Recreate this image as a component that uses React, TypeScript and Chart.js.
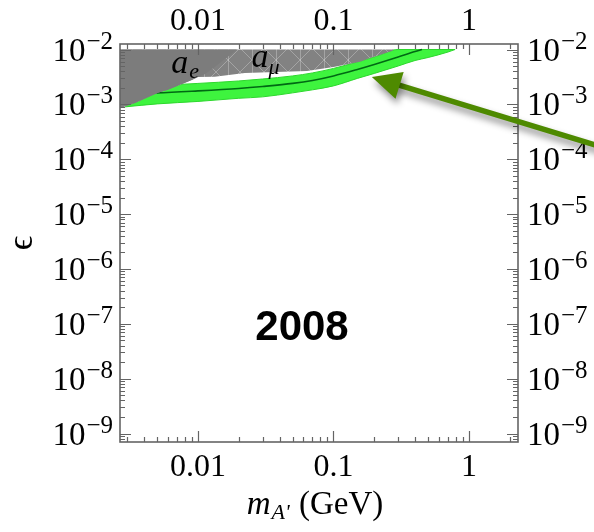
import { useEffect, useRef } from 'react';
import { Chart, registerables } from 'chart.js';

Chart.register(...registerables);

// ---------------- data ----------------
const xMin = 0.00266;
const xMax = 2.3;
const yMin = 7.3e-10;
const yMax = 1.26e-2;

const xTickValues = [0.01, 0.1, 1];
const xTickLabels = ['0.01', '0.1', '1'];
const yTickExponents = [-2, -3, -4, -5, -6, -7, -8, -9];

// green (g-2)_mu favoured band
const bandMass = [0.0029, 0.005, 0.01, 0.02, 0.03, 0.05, 0.07, 0.1, 0.15, 0.2, 0.3, 0.4, 0.5, 0.7, 0.79];
const bandUpper = [2.17e-3, 2.22e-3, 2.41e-3, 2.67e-3, 2.9e-3, 3.3e-3, 3.74e-3, 4.52e-3, 5.93e-3, 7.31e-3, 1e-2, 1e-2, 1e-2, 1e-2, 1e-2];
const bandLower = [9.0e-4, 1.02e-3, 1.13e-3, 1.29e-3, 1.37e-3, 1.62e-3, 1.84e-3, 2.17e-3, 2.97e-3, 3.66e-3, 5.0e-3, 6.3e-3, 7.15e-3, 9.0e-3, 1e-2];
const centralMass = [0.0029, 0.005, 0.01, 0.02, 0.03, 0.05, 0.07, 0.1, 0.15, 0.2, 0.3, 0.4, 0.45];
const centralEps = [1.585e-3, 1.62e-3, 1.76e-3, 1.95e-3, 2.12e-3, 2.41e-3, 2.73e-3, 3.3e-3, 4.33e-3, 5.34e-3, 7.31e-3, 9.2e-3, 1e-2];

// excluded regions (lower edges, filled up to 1e-2)
const amuMass = [0.00266, 0.00343, 0.00507, 0.006, 0.009, 0.01, 0.0133, 0.0222, 0.0637, 0.1, 0.157, 0.186, 0.22, 0.27, 0.28];
const amuEps = [8.6e-4, 1.06e-3, 1.62e-3, 1.84e-3, 2.79e-3, 3.16e-3, 3.2e-3, 3.74e-3, 4.07e-3, 4.8e-3, 6.0e-3, 7.0e-3, 7.9e-3, 9.4e-3, 1e-2];
const aeMass = [0.00266, 0.00343, 0.00507, 0.006, 0.009, 0.01, 0.0113, 0.0133, 0.0158, 0.0194];
const aeEps = [8.6e-4, 1.06e-3, 1.62e-3, 1.84e-3, 2.79e-3, 3.16e-3, 3.59e-3, 4.8e-3, 6.7e-3, 1e-2];

// annotations (data coordinates)
const arrowTip = { x: 0.192, y: 3.16e-3 };
const arrowTail = { x: 13, y: 1.32e-4 };
const yearLabel = { text: '2008', x: 0.0586, y: 8.3e-8 };
const aeLabel = { x: 0.00635, y: 3.74e-3 };
const amuLabel = { x: 0.0248, y: 4.8e-3 };

const SERIF = "'Liberation Serif', 'Times New Roman', serif";
const SANS = "'Liberation Sans', Arial, sans-serif";
const FRAME = 'rgb(100,100,100)';

const zip = (xs: number[], ys: number[]) => xs.map((x, i) => ({ x, y: ys[i] }));

function drawPower(ctx: CanvasRenderingContext2D, exp: number, anchor: number, yTick: number, align: 'left' | 'right') {
  const base = '10';
  const sup = '\u2212' + Math.abs(exp);
  ctx.font = `33px ${SERIF}`;
  const wb = ctx.measureText(base).width;
  ctx.font = `25px ${SERIF}`;
  const ws = ctx.measureText(sup).width;
  const gap = 1;
  const start = align === 'right' ? anchor - (wb + gap + ws) : anchor;
  ctx.textAlign = 'left';
  ctx.textBaseline = 'alphabetic';
  ctx.font = `33px ${SERIF}`;
  ctx.fillText(base, start, yTick + 11);
  ctx.font = `25px ${SERIF}`;
  ctx.fillText(sup, start + wb + gap, yTick - 1);
}

const decorPlugin = {
  id: 'decor',
  afterDraw(chart: any) {
    const ctx: CanvasRenderingContext2D = chart.ctx;
    const { left, right, top, bottom } = chart.chartArea;
    const xs = chart.scales.x;
    const ys = chart.scales.y;
    ctx.save();

    // ticks
    ctx.strokeStyle = FRAME;
    ctx.lineWidth = 1.2;
    ctx.beginPath();
    for (let d = -3; d <= 0; d++) {
      for (let k = 1; k <= 9; k++) {
        const v = k * Math.pow(10, d);
        if (v < xMin || v > xMax) continue;
        const px = Math.round(xs.getPixelForValue(v)) + 0.5;
        const len = k === 1 ? 11 : 5;
        ctx.moveTo(px, bottom);
        ctx.lineTo(px, bottom - len);
        ctx.moveTo(px, top);
        ctx.lineTo(px, top + len);
      }
    }
    for (let d = -10; d <= -2; d++) {
      for (let k = 1; k <= 9; k++) {
        const v = k * Math.pow(10, d);
        if (v < yMin || v > yMax) continue;
        const py = Math.round(ys.getPixelForValue(v)) + 0.5;
        const len = k === 1 ? 11 : 5;
        ctx.moveTo(left, py);
        ctx.lineTo(left + len, py);
        ctx.moveTo(right, py);
        ctx.lineTo(right - len, py);
      }
    }
    ctx.stroke();

    // frame
    ctx.lineWidth = 1.6;
    ctx.strokeRect(left, top, right - left, bottom - top);

    // x tick labels (bottom and top)
    ctx.fillStyle = '#000';
    ctx.font = `32px ${SERIF}`;
    ctx.textAlign = 'center';
    ctx.textBaseline = 'alphabetic';
    xTickValues.forEach((v, i) => {
      const px = xs.getPixelForValue(v);
      ctx.fillText(xTickLabels[i], px, 476);
      ctx.fillText(xTickLabels[i], px, 30);
    });

    // y tick labels (left and right)
    yTickExponents.forEach((e) => {
      const py = ys.getPixelForValue(Math.pow(10, e));
      drawPower(ctx, e, left - 7, py, 'right');
      drawPower(ctx, e, right + 9, py, 'left');
    });

    // y title
    ctx.save();
    ctx.translate(23, (top + bottom) / 2);
    ctx.rotate(-Math.PI / 2);
    ctx.font = `36px ${SERIF}`;
    ctx.textAlign = 'center';
    ctx.textBaseline = 'middle';
    ctx.fillText('\u03F5', 0, 0);
    ctx.restore();

    // x title: m_{A'} (GeV)
    const cx = (left + right) / 2 - 4;
    ctx.textAlign = 'left';
    ctx.font = `italic 33px ${SERIF}`;
    const wm = ctx.measureText('m').width;
    ctx.font = `italic 22px ${SERIF}`;
    const wa = ctx.measureText("A'").width;
    ctx.font = `33px ${SERIF}`;
    const wg = ctx.measureText(' (GeV)').width;
    let sx = cx - (wm + wa + wg + 2) / 2;
    ctx.font = `italic 33px ${SERIF}`;
    ctx.fillText('m', sx, 514);
    sx += wm + 1;
    ctx.font = `italic 22px ${SERIF}`;
    ctx.fillText("A'", sx, 519);
    sx += wa + 1;
    ctx.font = `33px ${SERIF}`;
    ctx.fillText(' (GeV)', sx, 514);

    // region labels
    const aeX = xs.getPixelForValue(aeLabel.x);
    const aeY = ys.getPixelForValue(aeLabel.y);
    ctx.font = `italic 34px ${SERIF}`;
    ctx.fillText('a', aeX, aeY);
    const wA = ctx.measureText('a').width;
    ctx.font = `italic 22px ${SERIF}`;
    ctx.fillText('e', aeX + wA + 1, aeY + 5);

    const amX = xs.getPixelForValue(amuLabel.x);
    const amY = ys.getPixelForValue(amuLabel.y);
    ctx.font = `italic 34px ${SERIF}`;
    ctx.fillText('a', amX, amY);
    ctx.font = `italic 22px ${SERIF}`;
    ctx.fillText('\u03BC', amX + wA, amY + 7);

    // year
    ctx.font = `bold 42px ${SANS}`;
    ctx.textAlign = 'center';
    ctx.textBaseline = 'middle';
    ctx.fillText(yearLabel.text, xs.getPixelForValue(yearLabel.x), ys.getPixelForValue(yearLabel.y));

    // arrow
    const tx = xs.getPixelForValue(arrowTip.x);
    const ty = ys.getPixelForValue(arrowTip.y);
    const fx = xs.getPixelForValue(arrowTail.x);
    const fy = ys.getPixelForValue(arrowTail.y);
    const ang = Math.atan2(ty - fy, tx - fx);
    const headLen = 29;
    const headHalf = 14;
    const bx = tx - headLen * Math.cos(ang);
    const by = ty - headLen * Math.sin(ang);
    ctx.shadowColor = 'rgba(0,0,0,0.45)';
    ctx.shadowBlur = 7;
    ctx.shadowOffsetX = 2;
    ctx.shadowOffsetY = 5;
    ctx.strokeStyle = 'rgb(78,138,0)';
    ctx.fillStyle = 'rgb(78,138,0)';
    ctx.lineWidth = 5.5;
    ctx.beginPath();
    ctx.moveTo(fx, fy);
    ctx.lineTo(bx + 4 * Math.cos(ang), by + 4 * Math.sin(ang));
    ctx.stroke();
    ctx.beginPath();
    ctx.moveTo(tx, ty);
    ctx.lineTo(bx + headHalf * Math.sin(ang), by - headHalf * Math.cos(ang));
    ctx.lineTo(bx - headHalf * Math.sin(ang), by + headHalf * Math.cos(ang));
    ctx.closePath();
    ctx.fill();

    ctx.restore();
  },
};

export default function App() {
  const ref = useRef<HTMLCanvasElement | null>(null);

  useEffect(() => {
    const canvas = ref.current;
    if (!canvas) return;
    const c2d = canvas.getContext('2d')!;

    const pc = document.createElement('canvas');
    pc.width = 24;
    pc.height = 24;
    const p = pc.getContext('2d')!;
    p.fillStyle = 'rgb(130,130,130)';
    p.fillRect(0, 0, 24, 24);
    p.strokeStyle = 'rgba(255,255,255,0.28)';
    p.lineWidth = 1;
    p.beginPath();
    p.moveTo(0, 0);
    p.lineTo(24, 24);
    p.moveTo(24, 0);
    p.lineTo(0, 24);
    p.moveTo(12.5, 0);
    p.lineTo(12.5, 24);
    p.stroke();
    const pattern = c2d.createPattern(pc, 'repeat');

    const chart = new Chart(canvas, {
      type: 'line',
      data: {
        datasets: [
          {
            label: 'a_e',
            data: zip(aeMass, aeEps),
            fill: { value: 1e-2 },
            backgroundColor: 'rgb(124,124,124)',
            borderWidth: 0,
            borderColor: 'rgba(0,0,0,0)',
            pointRadius: 0,
            order: 1,
          },
          {
            label: 'a_mu',
            data: zip(amuMass, amuEps),
            fill: { value: 1e-2 },
            backgroundColor: pattern as any,
            borderWidth: 0,
            borderColor: 'rgba(0,0,0,0)',
            pointRadius: 0,
            order: 2,
          },
          {
            label: 'central',
            data: zip(centralMass, centralEps),
            fill: false,
            borderColor: 'rgb(0,105,20)',
            borderWidth: 1.6,
            pointRadius: 0,
            cubicInterpolationMode: 'monotone',
            order: 3,
          },
          {
            label: 'upper',
            data: zip(bandMass, bandUpper),
            fill: '+1',
            backgroundColor: 'rgb(62,244,62)',
            borderColor: 'rgb(45,215,45)',
            borderWidth: 1,
            pointRadius: 0,
            cubicInterpolationMode: 'monotone',
            order: 5,
          },
          {
            label: 'lower',
            data: zip(bandMass, bandLower),
            fill: false,
            borderColor: 'rgb(45,215,45)',
            borderWidth: 1,
            pointRadius: 0,
            cubicInterpolationMode: 'monotone',
            order: 4,
          },
        ],
      },
      options: {
        responsive: false,
        animation: false,
        layout: { padding: { left: 120, right: 76, top: 44, bottom: 90 } },
        plugins: { legend: { display: false }, tooltip: { enabled: false } },
        scales: {
          x: { type: 'logarithmic', min: xMin, max: xMax, display: false },
          y: { type: 'logarithmic', min: yMin, max: yMax, display: false },
        },
      },
      plugins: [decorPlugin],
    });
    return () => chart.destroy();
  }, []);

  return (
    <div style={{ position: 'fixed', left: 0, top: 0, width: 594, height: 532, background: '#fff' }}>
      <canvas ref={ref} width={594} height={532} style={{ display: 'block' }} />
    </div>
  );
}
